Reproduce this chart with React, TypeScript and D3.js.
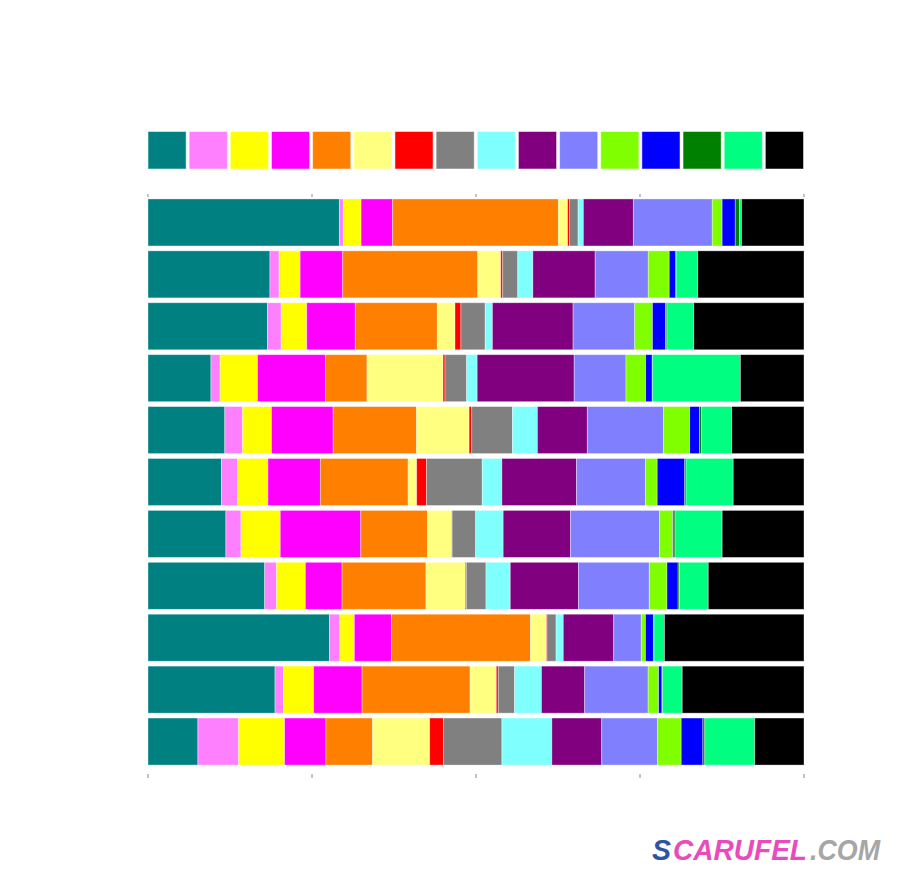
// App.tsx
// Normalised horizontal stacked bars with a colour-key strip on top
import * as d3 from "d3"

const W = 899
const H = 887

const SERIES = [
  "teal", "pink", "yellow", "magenta", "orange", "lightyellow", "red", "gray",
  "cyan", "purple", "lavender", "lime", "blue", "green", "springgreen", "black"
]

const COLORS = [
  "#008080", "#ff80ff", "#ffff00", "#ff00ff", "#ff8000", "#ffff80", "#ff0000", "#808080",
  "#80ffff", "#800080", "#8080ff", "#80ff00", "#0000ff", "#008000", "#00ff80", "#000000"
]

// one value per bar, top to bottom (shares, %)
const teal = [29.1, 18.6, 18.2, 9.6, 11.7, 11.2, 11.9, 17.8, 27.7, 19.4, 7.6]
const pink = [0.6, 1.4, 2.1, 1.4, 2.7, 2.5, 2.3, 1.8, 1.6, 1.3, 6.2]
const yellow = [2.7, 3.2, 3.9, 5.7, 4.4, 4.6, 6.0, 4.4, 2.2, 4.6, 7.0]
const magenta = [4.8, 6.5, 7.4, 10.4, 9.4, 8.0, 12.3, 5.6, 5.7, 7.4, 6.3]
const orange = [25.2, 20.6, 12.5, 6.3, 12.7, 13.4, 10.2, 12.8, 21.2, 16.5, 7.1]
const lightyellow = [1.4, 3.5, 2.7, 11.6, 8.0, 1.3, 3.7, 6.0, 2.4, 4.0, 8.7]
const red = [0.3, 0.3, 0.9, 0.3, 0.4, 1.5, 0.05, 0.15, 0.1, 0.3, 2.1]
const gray = [1.3, 2.3, 3.7, 3.3, 6.2, 8.5, 3.6, 3.0, 1.4, 2.5, 8.9]
const cyan = [0.8, 2.3, 1.1, 1.6, 3.8, 3.0, 4.2, 3.7, 1.1, 4.1, 7.6]
const purple = [7.6, 9.5, 12.3, 14.8, 7.6, 11.4, 10.3, 10.4, 7.7, 6.6, 7.6]
const lavender = [12.0, 8.1, 9.4, 7.9, 11.6, 10.5, 13.6, 10.8, 4.2, 9.7, 8.5]
const lime = [1.5, 3.2, 2.7, 3.0, 4.0, 1.8, 2.0, 2.7, 0.65, 1.6, 3.6]
const blue = [2.0, 1.0, 2.0, 1.0, 1.5, 4.2, 0.05, 1.7, 1.2, 0.5, 3.3]
const green = [0.65, 0.05, 0.2, 0.05, 0.3, 0.2, 0.3, 0.2, 0.1, 0.1, 0.3]
const springgreen = [0.3, 3.3, 4.1, 13.4, 4.6, 7.2, 7.2, 4.4, 1.6, 3.0, 7.6]
const black = [9.5, 16.2, 16.8, 9.7, 11.0, 10.8, 12.5, 14.6, 21.3, 18.6, 7.5]

const VALUES = [
  teal, pink, yellow, magenta, orange, lightyellow, red, gray,
  cyan, purple, lavender, lime, blue, green, springgreen, black
]

const TICKS = [0, 0.25, 0.5, 0.75, 1]

export default function App() {
  const bars = teal.map((_, i) => i)
  const rows = bars.map(i => {
    const r: Record<string, number> = { bar: i }
    SERIES.forEach((s, k) => { r[s] = VALUES[k][i] })
    return r
  })

  const stacked = d3.stack<Record<string, number>>()
    .keys(SERIES)
    .offset(d3.stackOffsetExpand)(rows)

  const x = d3.scaleLinear().domain([0, 1]).range([148, 804])
  const y = d3.scaleBand<number>()
    .domain(bars)
    .range([196.5, 767.5])
    .paddingInner(0.094)
    .paddingOuter(0.047)

  // key boxes, same width as the plot
  const legend = d3.scaleBand<string>().domain(SERIES).range([148, 803.5]).paddingInner(0.073).paddingOuter(0)

  const wm = { fontFamily: "Liberation Sans, Arial, sans-serif", fontWeight: "bold", fontStyle: "italic", fontSize: 30 }

  return (
    <svg width={W} height={H} style={{ position: "absolute", left: 0, top: 0, background: "#fff" }}>
      {/* colour key */}
      {SERIES.map((s, k) => (
        <rect key={s} x={legend(s)} y={131.5} width={legend.bandwidth()} height={37.5}
          fill={COLORS[k]} stroke="#fff" strokeOpacity={0.5} strokeWidth={1} />
      ))}

      {/* bars */}
      {stacked.map((layer, k) => (
        <g key={layer.key} fill={COLORS[k]}>
          {layer.map((d, i) => (
            <rect key={i} x={x(d[0])} y={y(i)} width={Math.max(0, x(d[1]) - x(d[0]))}
              height={y.bandwidth()} stroke="#fff" strokeOpacity={0.45} strokeWidth={0.8} />
          ))}
        </g>
      ))}

      {/* tick marks */}
      {TICKS.map(t => (
        <g key={t} stroke="#888" strokeWidth={1}>
          <line x1={x(t)} x2={x(t)} y1={194} y2={197} />
          <line x1={x(t)} x2={x(t)} y1={774} y2={778} />
        </g>
      ))}

      {/* watermark */}
      <text x={652} y={860} {...wm} fill="#2a55a8" textLength={19} lengthAdjust="spacingAndGlyphs">S</text>
      <text x={673} y={860} {...wm} fill="#e84cbc" textLength={134} lengthAdjust="spacingAndGlyphs">CARUFEL</text>
      <text x={810} y={860} {...wm} fill="#a6a6a6" textLength={70} lengthAdjust="spacingAndGlyphs">.COM</text>
    </svg>
  )
}
